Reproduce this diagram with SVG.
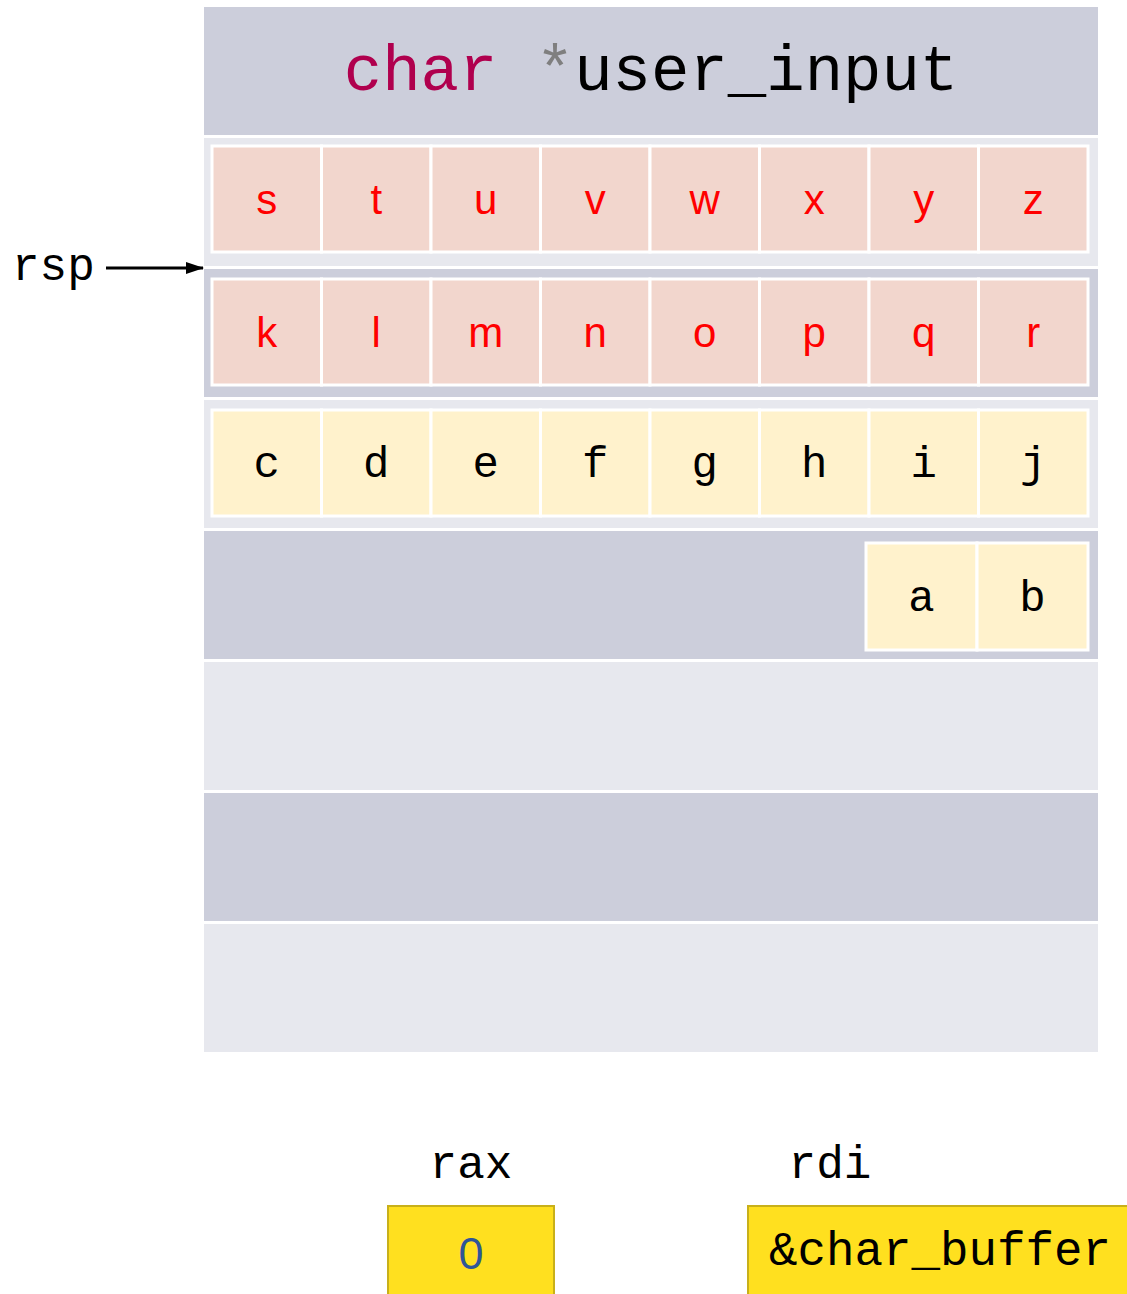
<svg xmlns="http://www.w3.org/2000/svg" width="1127" height="1294" viewBox="0 0 1127 1294">
<style>
.dk{fill:#CCCEDB}
.lt{fill:#E7E8EE}
.pk{fill:#F2D6CD;stroke:#FFFFFF;stroke-width:3}
.yl{fill:#FFF2CC;stroke:#FFFFFF;stroke-width:3}
.rl{font-family:"Liberation Sans","Open Sans",sans-serif;font-size:42px;fill:#FF0000;text-anchor:middle}
.ml{font-family:"Liberation Mono",monospace;font-size:44px;fill:#000000;text-anchor:middle}
.lbl{font-family:"Liberation Mono",monospace;font-size:46px;fill:#000000}
.reg{fill:#FFE01F;stroke:#C8B01A;stroke-width:2}
</style>
<defs>
<marker id="ah" markerWidth="18" markerHeight="16" refX="17" refY="8" orient="auto" markerUnits="userSpaceOnUse">
<path d="M0,2 L18,8 L0,14 z" fill="#000"/>
</marker>
</defs>
<rect width="1127" height="1294" fill="#FFFFFF"/>
<g id="row0">
<rect class="dk" x="204" y="7" width="894" height="128"/>
<text x="651" y="90" font-family="Liberation Mono, monospace" font-size="64" text-anchor="middle"><tspan fill="#B0004E">char</tspan><tspan fill="#7F7F7F"> *</tspan><tspan fill="#000000">user_input</tspan></text>
</g>
<g id="row1">
<rect class="lt" x="204" y="138" width="894" height="128"/>
<rect class="pk" x="212" y="146" width="109.5" height="106"/>
<rect class="pk" x="321.5" y="146" width="109.5" height="106"/>
<rect class="pk" x="431" y="146" width="109.5" height="106"/>
<rect class="pk" x="540.5" y="146" width="109.5" height="106"/>
<rect class="pk" x="650" y="146" width="109.5" height="106"/>
<rect class="pk" x="759.5" y="146" width="109.5" height="106"/>
<rect class="pk" x="869" y="146" width="109.5" height="106"/>
<rect class="pk" x="978.5" y="146" width="109.5" height="106"/>
<text class="rl" x="266.75" y="214">s</text>
<text class="rl" x="376.25" y="214">t</text>
<text class="rl" x="485.75" y="214">u</text>
<text class="rl" x="595.25" y="214">v</text>
<text class="rl" x="704.75" y="214">w</text>
<text class="rl" x="814.25" y="214">x</text>
<text class="rl" x="923.75" y="214">y</text>
<text class="rl" x="1033.25" y="214">z</text>
</g>
<g id="row2">
<rect class="dk" x="204" y="269" width="894" height="128"/>
<rect class="pk" x="212" y="279" width="109.5" height="106"/>
<rect class="pk" x="321.5" y="279" width="109.5" height="106"/>
<rect class="pk" x="431" y="279" width="109.5" height="106"/>
<rect class="pk" x="540.5" y="279" width="109.5" height="106"/>
<rect class="pk" x="650" y="279" width="109.5" height="106"/>
<rect class="pk" x="759.5" y="279" width="109.5" height="106"/>
<rect class="pk" x="869" y="279" width="109.5" height="106"/>
<rect class="pk" x="978.5" y="279" width="109.5" height="106"/>
<text class="rl" x="266.75" y="347">k</text>
<text class="rl" x="376.25" y="347">l</text>
<text class="rl" x="485.75" y="347">m</text>
<text class="rl" x="595.25" y="347">n</text>
<text class="rl" x="704.75" y="347">o</text>
<text class="rl" x="814.25" y="347">p</text>
<text class="rl" x="923.75" y="347">q</text>
<text class="rl" x="1033.25" y="347">r</text>
</g>
<g id="row3">
<rect class="lt" x="204" y="400" width="894" height="128"/>
<rect class="yl" x="212" y="410" width="109.5" height="106"/>
<rect class="yl" x="321.5" y="410" width="109.5" height="106"/>
<rect class="yl" x="431" y="410" width="109.5" height="106"/>
<rect class="yl" x="540.5" y="410" width="109.5" height="106"/>
<rect class="yl" x="650" y="410" width="109.5" height="106"/>
<rect class="yl" x="759.5" y="410" width="109.5" height="106"/>
<rect class="yl" x="869" y="410" width="109.5" height="106"/>
<rect class="yl" x="978.5" y="410" width="109.5" height="106"/>
<text class="ml" x="266.75" y="477">c</text>
<text class="ml" x="376.25" y="477">d</text>
<text class="ml" x="485.75" y="477">e</text>
<text class="ml" x="595.25" y="477">f</text>
<text class="ml" x="704.75" y="477">g</text>
<text class="ml" x="814.25" y="477">h</text>
<text class="ml" x="923.75" y="477">i</text>
<text class="ml" x="1033.25" y="477">j</text>
</g>
<g id="row4">
<rect class="dk" x="204" y="531" width="894" height="128"/>
<rect class="yl" x="866" y="543" width="111" height="107"/>
<rect class="yl" x="977" y="543" width="111" height="107"/>
<text class="ml" x="921.5" y="611">a</text>
<text class="ml" x="1032.5" y="611">b</text>
</g>
<g id="row5"><rect class="lt" x="204" y="662" width="894" height="128"/></g>
<g id="row6"><rect class="dk" x="204" y="793" width="894" height="128"/></g>
<g id="row7"><rect class="lt" x="204" y="924" width="894" height="128"/></g>
<g id="rsp">
<text class="lbl" x="12" y="280">rsp</text>
</g>
<g id="connectors">
<line x1="106" y1="268" x2="203" y2="268" stroke="#000" stroke-width="3" marker-end="url(#ah)"/>
</g>
<g id="rax">
<text class="lbl" x="471" y="1178" text-anchor="middle">rax</text>
<rect class="reg" x="388" y="1206" width="166" height="100"/>
<text x="471" y="1269" font-family="Liberation Sans, sans-serif" font-size="45" fill="#2F5597" text-anchor="middle">0</text>
</g>
<g id="rdi">
<text class="lbl" x="830" y="1178" text-anchor="middle">rdi</text>
<rect class="reg" x="748" y="1206" width="400" height="100"/>
<text class="lbl" x="769" y="1265" style="font-size:47.5px">&amp;char_buffer</text>
</g>
</svg>
